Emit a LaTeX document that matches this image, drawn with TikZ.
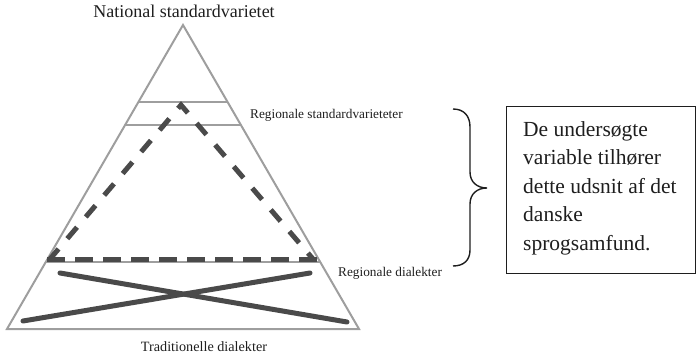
\documentclass[tikz,border=0pt]{standalone}
\usepackage{fontspec}
\setmainfont{Liberation Serif}
\usetikzlibrary{calc}
\definecolor{trigray}{HTML}{9E9E9E}
\definecolor{darkgray}{HTML}{4A4A4A}
\definecolor{inkblack}{HTML}{1E1E1E}
\begin{document}
\begin{tikzpicture}[x=1pt,y=-1pt,
  triline/.style={draw=trigray,line width=2pt},
  dashbase/.style={draw=darkgray,line width=5pt,dash pattern=on 18pt off 10pt},
  dashside/.style={draw=darkgray,line width=5pt,dash pattern=on 15pt off 13.5pt,dash phase=1.8pt,line join=miter},
  crossline/.style={draw=darkgray,line width=5pt,line cap=round},
  smalllbl/.style={font=\fontsize{13.3}{15}\selectfont,inner sep=0pt,text=inkblack},
  boxstyle/.style={draw=inkblack,line width=1.4pt,inner sep=0pt,minimum width=189pt,minimum height=167pt},
  bracestyle/.style={draw=inkblack,line width=1.4pt}]
\useasboundingbox (0,0) rectangle (696,355);
% outer triangle
\coordinate (A) at (183,25);
\coordinate (L) at (7,329);
\coordinate (R) at (359,329);
\draw[triline,line join=miter] (A) -- (L) -- (R) -- cycle;
% horizontal gray lines
\draw[triline] ($(A)!0.2533!(L)$) -- ($(A)!0.2533!(R)$);
\draw[triline] ($(A)!0.3306!(L)$) -- ($(A)!0.3306!(R)$);
\draw[triline] ($(A)!0.7780!(L)$) -- ($(A)!0.7780!(R)$);
% dashed inner triangle
\coordinate (dA) at (181,105);
\coordinate (dL) at (50,259);
\coordinate (dR) at (313,259);
\draw[dashside] (dL) -- (dA) -- (dR);
\coordinate (bL) at (47,259.5);
\coordinate (bR) at (320,259.5);
\draw[dashbase] (bL) -- (bR);
% crossing lines
\coordinate (c1a) at (60,273);
\coordinate (c1b) at (347,322);
\coordinate (c2a) at (23,321);
\coordinate (c2b) at (310,273);
\draw[crossline] (c1a) -- (c1b);
\draw[crossline] (c2a) -- (c2b);
% labels
\node[font=\fontsize{18}{20}\selectfont,inner sep=0pt,anchor=base,text=inkblack] (nat) at (184,18) {National standardvarietet};
\node[smalllbl,anchor=base west] (rstd) at (250,118.5) {Regionale standardvarieteter};
\node[smalllbl,anchor=base west] (rdia) at (338,277) {Regionale dialekter};
\node[font=\fontsize{14.2}{16}\selectfont,inner sep=0pt,anchor=base,text=inkblack] (tdia) at (204,352) {Traditionelle dialekter};
% brace
\coordinate (brT) at (453,109);
\coordinate (brB) at (453,266);
\coordinate (brTip) at (487,188);
\draw[bracestyle] (brT) .. controls (464,109) and (470,116) .. (470,127)
  -- (470,172) .. controls (470,182) and (477,188) .. (brTip)
  .. controls (477,188) and (470,194) .. (470,204)
  -- (470,250) .. controls (470,260) and (464,266) .. (brB);
% box
\node[boxstyle,anchor=north west] (box) at (506,106) {};
\node[font=\fontsize{21.5}{28.5}\selectfont,inner sep=0pt,anchor=north west,align=left,text=inkblack] (boxtext) at (523,121.3)
  {De undersøgte\\variable tilhører\\dette udsnit af det\\danske\\sprogsamfund.};
\end{tikzpicture}
\end{document}
